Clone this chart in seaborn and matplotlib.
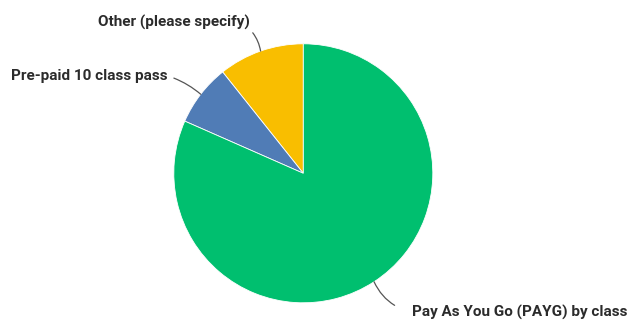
import numpy as np
import matplotlib
matplotlib.use("Agg")
import matplotlib.pyplot as plt
import seaborn as sns

# slices in drawing order (counter-clockwise from 12 o'clock)
labels = ["Other (please specify)", "Pre-paid 10 class pass", "Pay As You Go (PAYG) by class"]
shares = [10.7, 7.7, 81.6]
colors = ["#F9BE00", "#507CB6", "#00BF6F"]

sns.set_theme(style="white")
plt.rcParams["font.family"] = ["Roboto", "DejaVu Sans"]

W, H = 627, 324
fig = plt.figure(figsize=(W / 100, H / 100), dpi=100)
ax = fig.add_axes([0, 0, 1, 1])

center = (303.3, 150.7)
radius = 129.5
wedges, _ = ax.pie(shares, colors=colors, startangle=90, counterclock=True,
                   center=center, radius=radius,
                   wedgeprops=dict(linewidth=0.6, edgecolor="white"))
ax.set_xlim(0, W)
ax.set_ylim(0, H)
ax.axis("off")

# label anchor, alignment, relpos, curvature
label_opts = [
    dict(xytext=(250, 302), ha="right", relpos=(1.0, 0.0), rad=-0.15, shrinkA=0),
    dict(xytext=(168, 248), ha="right", relpos=(1.0, 0.5), rad=-0.1, shrinkA=2),
    dict(xytext=(412, 12), ha="left", relpos=(0.0, 0.5), rad=-0.25, shrinkA=11),
]

for w, lab, opt in zip(wedges, labels, label_opts):
    mid = np.deg2rad((w.theta1 + w.theta2) / 2)
    xy = (center[0] + radius * np.cos(mid), center[1] + radius * np.sin(mid))
    ax.annotate(lab, xy=xy, xytext=opt["xytext"], ha=opt["ha"], va="center",
                fontsize=11, fontweight="bold", color="#2b2b2b",
                arrowprops=dict(arrowstyle="-", color="#555555", lw=0.9,
                                relpos=opt["relpos"], shrinkA=opt["shrinkA"], shrinkB=0,
                                connectionstyle=f"arc3,rad={opt['rad']}"))

fig.savefig("out.png", dpi=100)
